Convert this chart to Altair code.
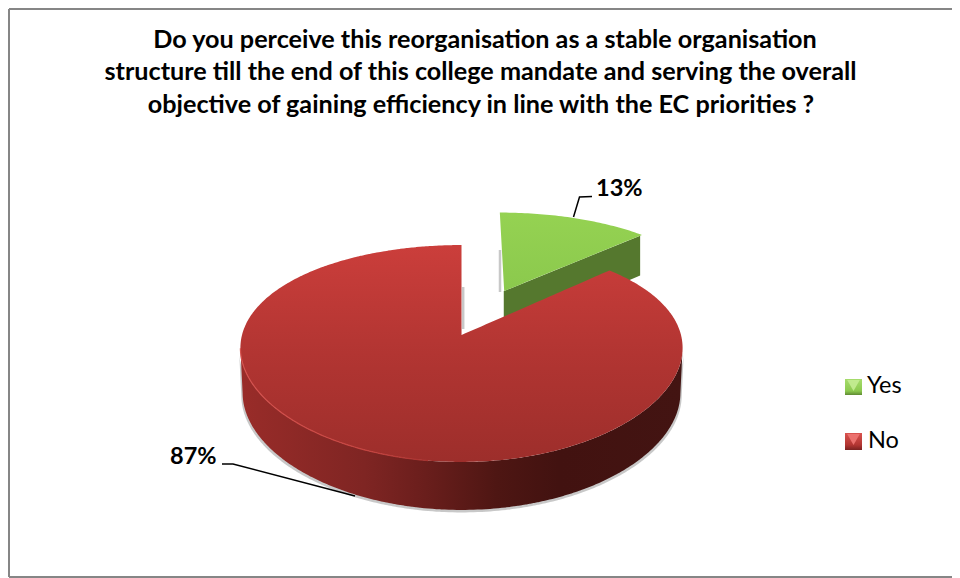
import numpy as np
import pandas as pd
import altair as alt

# ---- chart content ----
title_lines = [
    "Do you perceive this reorganisation as a stable organisation",
    "structure till the end of this college mandate and serving the overall",
    "objective of gaining efficiency in line with the EC priorities ?",
]
categories = ["Yes", "No"]
shares = [13, 87]
labels = ["13%", "87%"]

# ---- layout (page pixels of the picture) ----
W, H = 944, 570
CX, APEX_Y, RX, AY = 461.5, 335.0, 219.5, 105.3
KX, KY = 0.12, 0.1705
EXPLODE = (0.205, 0.45)
FONT = "Lato"

sx = alt.Scale(domain=[8, 8 + W], nice=False, zero=False)
sy = alt.Scale(domain=[8 + H, 8], nice=False, zero=False)
X = alt.X("x:Q", scale=sx, axis=None)
Y = alt.Y("y:Q", scale=sy, axis=None, stack=None)
Y2 = alt.Y2("y2:Q")


def top(u, v):
    return CX + RX * u / (1 + KX * v), APEX_Y - AY * v / (1 + KY * v)


def bottom(u, v):
    x, y = top(u, v)
    return CX + (x - CX) * 0.99, y + 44.5 - 3.5 * v


def band(upper, lower, dx=0.0, dy=0.0):
    grid = np.unique(np.concatenate([upper[0], lower[0]]))
    yu = np.interp(grid, upper[0], upper[1])
    yl = np.interp(grid, lower[0], lower[1])
    return pd.DataFrame(
        {"x": np.round(grid + dx, 2), "y": np.round(yu + dy, 2), "y2": np.round(yl + dy, 2)}
    )


# angles follow the shares, clockwise from twelve o'clock
gap = 2 * np.pi * shares[0] / sum(shares)
th = np.linspace(gap, 2 * np.pi, 330)
U, V = np.sin(th), np.cos(th)
xt, yt = top(U, V)
xb, yb = bottom(U, V)
i_right, i_left = int(np.argmax(xt)), int(np.argmin(xt))

front = (xt[i_right:i_left + 1][::-1], yt[i_right:i_left + 1][::-1])
fb_x, fb_y = xb[i_right:i_left + 1][::-1], yb[i_right:i_left + 1][::-1]
# the side wall starts at the widest points of the top face and slants in to the lower rim
front_b = (
    np.concatenate([[front[0][0]], fb_x, [front[0][-1]]]),
    np.concatenate([[front[1][0]], fb_y, [front[1][-1]]]),
)
apex = top(0.0, 0.0)
up_x = np.concatenate([xt[i_left:], [apex[0] + 0.05], xt[:i_right + 1]])
up_y = np.concatenate([yt[i_left:], [apex[1]], yt[:i_right + 1]])

red_top = band((up_x, up_y), front)
red_side = band(front, front_b)
red_shadow = band(front, front_b, dy=2.5)
red_shadow["x"] = np.round(CX + (red_shadow["x"] - CX) * 1.006, 2)

# exploded slice
th_g = np.linspace(0, gap, 50)
ug, vg = EXPLODE[0] + np.sin(th_g), EXPLODE[1] + np.cos(th_g)
gx, gy = top(ug, vg)
g_apex = top(*EXPLODE)
g_apex_b = bottom(*EXPLODE)
g_end = (gx[-1], gy[-1])
g_end_b = bottom(ug[-1], vg[-1])
lo_x = np.array([gx[0] - 0.01, g_apex[0], g_end[0]])
lo_y = np.array([gy[0], g_apex[1], g_end[1]])
order = np.argsort(lo_x)
green_top = band((gx, gy), (lo_x[order], lo_y[order]))
wall_up = (np.array([g_apex[0], g_end[0]]), np.array([g_apex[1], g_end[1]]))
wall_lo = (np.array([g_apex_b[0], g_end_b[0]]), np.array([g_apex_b[1], g_end_b[1]]))
green_wall = band(wall_up, wall_lo)
green_wall = green_wall[green_wall["x"] <= g_end_b[0] + 0.01]


def grad(stops, vertical=True):
    return alt.Gradient(
        gradient="linear",
        stops=[alt.GradientStop(offset=o, color=c) for o, c in stops],
        x1=0, x2=0 if vertical else 1, y1=0, y2=1 if vertical else 0,
    )


def area(df, fill, **kw):
    return alt.Chart(df).mark_area(fill=fill, orient="vertical", **kw).encode(x=X, y=Y, y2=Y2)


# soft shadow along the left edge of the exploded slice
edge_g = pd.DataFrame({"x": [500.0], "y": [250.0], "y2": [292.0]})

layers = [
    area(red_shadow, "#9a9a9a", opacity=0.55),
    alt.Chart(edge_g).mark_rule(color="#9a9a9a", strokeWidth=2.5, opacity=0.55).encode(x=X, y=Y, y2=Y2),
    area(green_wall, "#55782E"),
    area(green_top, grad([(0, "#95D252"), (1, "#8BC94D")])),
    area(red_side, grad([(0, "#992C29"), (0.28, "#7F2523"), (0.4, "#6D1F1D"),
                         (0.58, "#4E1613"), (0.72, "#421210"), (1, "#431412")], vertical=False)),
    area(red_top, grad([(0, "#CB3E3B"), (0.5, "#B23532"), (1, "#9D2E2B")])),
]

# lit rim on the lower left of the front edge
rim = pd.DataFrame({"x": front[0], "y": front[1]})
rim = rim[rim["x"] < 430].round(2)
layers.append(
    alt.Chart(rim).mark_line(
        strokeWidth=1.2,
        stroke=alt.Gradient(
            gradient="linear",
            stops=[alt.GradientStop(offset=0, color="#D5524E"),
                   alt.GradientStop(offset=0.7, color="#C4433F"),
                   alt.GradientStop(offset=1, color="#A8322F")],
            x1=0, x2=1, y1=0, y2=0),
    ).encode(x=X, y=Y, order="x:Q")
)

# soft shadow along the cut edge of the large slice
edge_r = pd.DataFrame({"x": [463.2], "y": [287.0], "y2": [329.0]})
layers.append(alt.Chart(edge_r).mark_rule(color="#9a9a9a", strokeWidth=2.5, opacity=0.55)
              .encode(x=X, y=Y, y2=Y2))

# leader lines
leader = pd.DataFrame({
    "x": [573.5, 579.5, 592.0, 222.0, 233.0, 355.0],
    "y": [217.0, 197.0, 196.5, 464.0, 464.0, 496.0],
    "k": ["a", "a", "a", "b", "b", "b"],
    "o": [0, 1, 2, 0, 1, 2],
})
layers.append(alt.Chart(leader).mark_line(color="#000000", strokeWidth=1.5)
              .encode(x=X, y=Y, detail="k:N", order="o:Q"))

# data labels
lab = pd.DataFrame({"x": [596.0, 170.0], "y": [196.0, 464.0], "t": labels})
layers.append(alt.Chart(lab).mark_text(font=FONT, fontWeight="bold", fontSize=23.5, align="left",
                                       baseline="alphabetic", color="#000000")
              .encode(x=X, y=Y, text="t:N"))

# title
tit = pd.DataFrame({"x": [485.0, 480.5, 481.0], "y": [47.5, 80.0, 112.5], "t": title_lines})
layers.append(alt.Chart(tit).mark_text(font=FONT, fontWeight="bold", fontSize=25.2, align="center",
                                       baseline="alphabetic", color="#000000")
              .encode(x=X, y=Y, text="t:N"))

# legend
leg = pd.DataFrame({"x": [845.0, 845.0], "x2": [862.0, 862.0], "y": [379.0, 433.0], "y2": [395.0, 450.0]})
leg_fill = [grad([(0, "#A6DC6C"), (0.75, "#8CC94E"), (1, "#5F8A33")]),
            grad([(0, "#D9534F"), (0.7, "#B23532"), (1, "#7A2220")])]
for i, f in enumerate(leg_fill):
    layers.append(alt.Chart(leg.iloc[[i]]).mark_rect(fill=f)
                  .encode(x=X, x2=alt.X2("x2:Q"), y=Y, y2=Y2))
tri = pd.DataFrame({"x": [853.5, 853.5], "y": [385.5, 439.5], "c": ["#C4EC92", "#EE7672"]})
layers.append(alt.Chart(tri).mark_point(shape="triangle-down", filled=True, size=160, opacity=0.9)
              .encode(x=X, y=Y, color=alt.Color("c:N", scale=None)))
legt = pd.DataFrame({"x": [867.0, 868.0], "y": [393.0, 448.0], "t": categories})
layers.append(alt.Chart(legt).mark_text(font=FONT, fontSize=23.5, align="left",
                                        baseline="alphabetic", color="#000000")
              .encode(x=X, y=Y, text="t:N"))

# frame of the picture: left, top and bottom
fr_v = pd.DataFrame({"x": [9.0], "y": [9.0], "y2": [577.0]})
layers.append(alt.Chart(fr_v).mark_rule(color="#868686", strokeWidth=2).encode(x=X, y=Y, y2=Y2))
fr_h = pd.DataFrame({"x": [9.0, 9.0], "x2": [952.0, 952.0], "y": [9.0, 577.0]})
layers.append(alt.Chart(fr_h).mark_rule(color="#868686", strokeWidth=2)
              .encode(x=X, x2=alt.X2("x2:Q"), y=Y))

chart = (
    alt.layer(*layers)
    .properties(width=W, height=H, padding=0, autosize="none", background="#FFFFFF")
    .configure_view(stroke=None)
)
chart.save("out.html", embed_options={"renderer": "svg", "actions": False})
